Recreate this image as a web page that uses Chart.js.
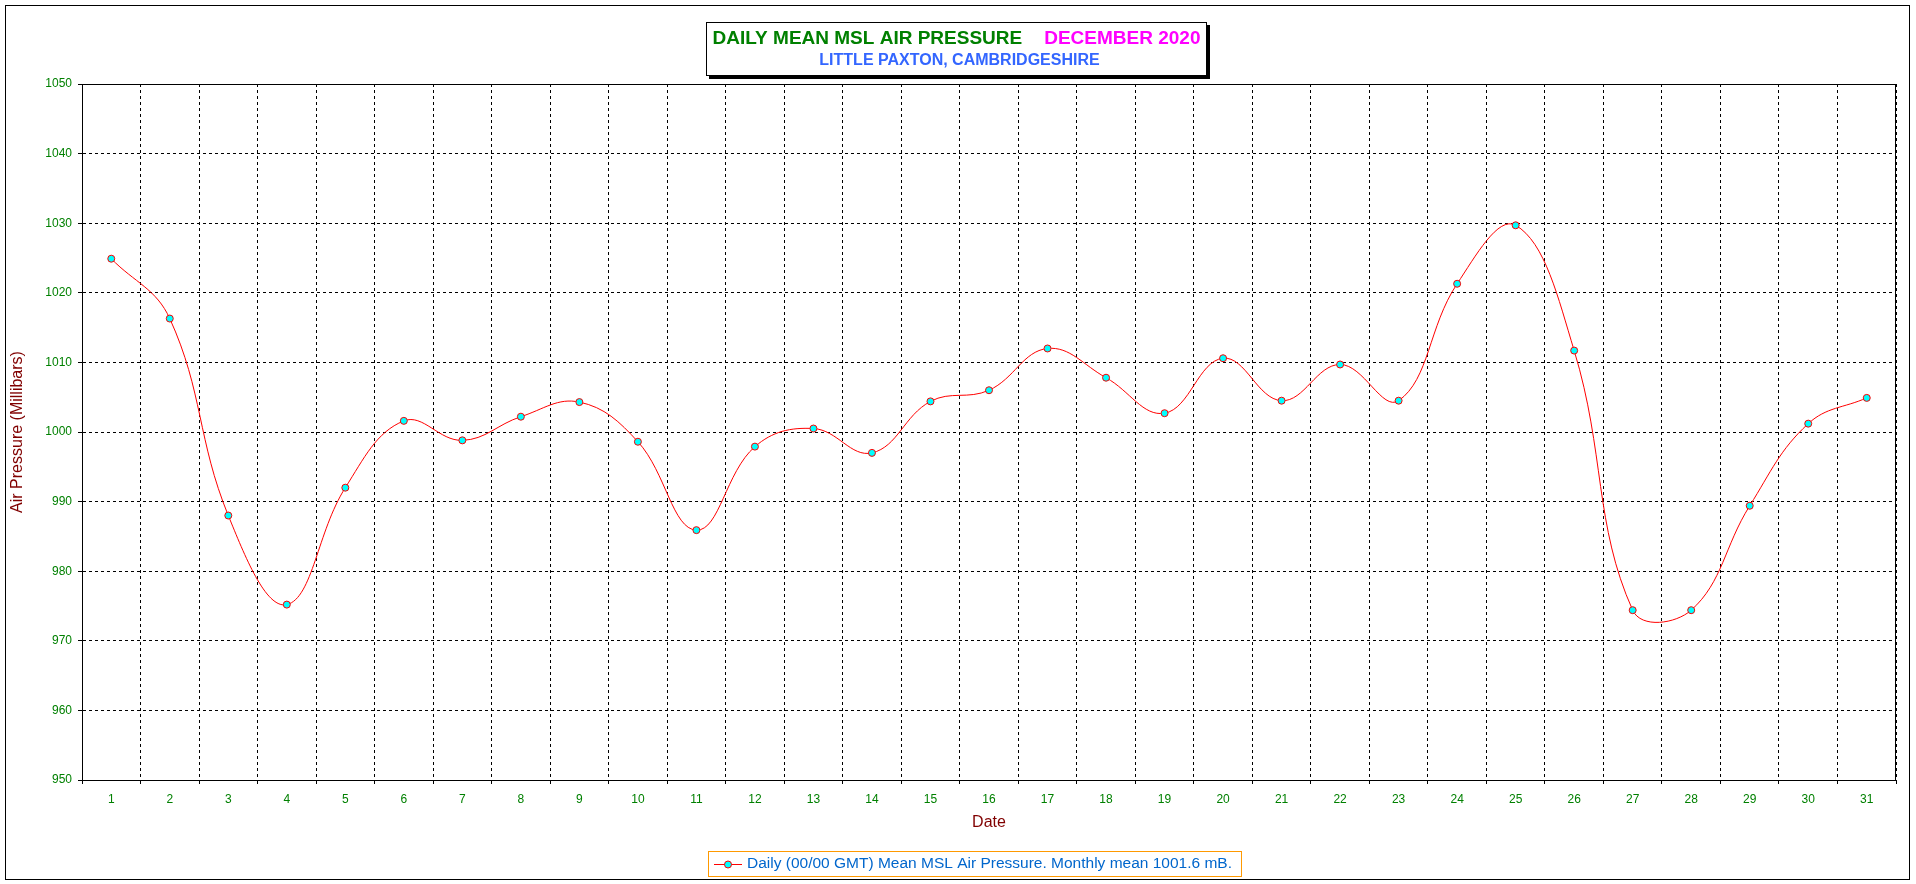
<!DOCTYPE html>
<html>
<head>
<meta charset="utf-8">
<title>Daily Mean MSL Air Pressure - December 2020</title>
<script src="https://cdn.jsdelivr.net/npm/chart.js@4.4.1/dist/chart.umd.min.js"></script>
<style>
  html, body { margin: 0; padding: 0; background: #fff; }
  #wrap { width: 1916px; height: 884px; }
</style>
</head>
<body>
<div id="wrap"><canvas id="pressure-chart" width="1916" height="884"></canvas></div>
<script>
// day of month (x categories)
var days = ['1','2','3','4','5','6','7','8','9','10','11','12','13','14','15','16',
            '17','18','19','20','21','22','23','24','25','26','27','28','29','30','31'];
// daily mean MSL pressure, mb
var pressure = [1024.9, 1016.3, 988.0, 975.2, 992.0, 1001.6, 998.8, 1002.2, 1004.3, 998.6,
                985.9, 997.9, 1000.5, 997.0, 1004.4, 1006.0, 1012.0, 1007.8, 1002.7, 1010.6,
                1004.5, 1009.7, 1004.5, 1021.3, 1029.7, 1011.7, 974.4, 974.4, 989.4, 1001.2, 1004.9];
var yMin = 950, yMax = 1050, yStep = 10;

var titleMain = "DAILY MEAN MSL AIR PRESSURE";
var titleMonth = "DECEMBER 2020";
var titleSub = "LITTLE PAXTON, CAMBRIDGESHIRE";
var seriesLabel = "Daily (00/00 GMT) Mean MSL Air Pressure. Monthly mean 1001.6 mB.";

var FONT = '"Liberation Sans", Arial, sans-serif';

// white page + outer frame
var backdrop = {
  id: 'backdrop',
  beforeDraw: function(chart) {
    var c = chart.ctx;
    c.save();
    c.fillStyle = '#fff';
    c.fillRect(0, 0, chart.width, chart.height);
    c.strokeStyle = '#000';
    c.lineWidth = 1;
    c.strokeRect(5.5, 5.5, chart.width - 12, chart.height - 10);
    c.restore();
  }
};

// plot border, title box and legend box
var extras = {
  id: 'extras',
  afterDraw: function(chart) {
    var c = chart.ctx, a = chart.chartArea;
    c.save();
    c.strokeStyle = '#000';
    c.lineWidth = 1;
    c.setLineDash([]);
    c.strokeRect(a.left + 0.5, a.top + 0.5, a.right - a.left - 1, a.bottom - a.top);

    // title box with shadow
    var bx = 706, by = 22, bw = 501, bh = 54;
    c.fillStyle = '#000';
    c.fillRect(bx + 3, by + 3, bw, bh);
    c.fillStyle = '#fff';
    c.fillRect(bx, by, bw, bh);
    c.strokeRect(bx + 0.5, by + 0.5, bw - 1, bh - 1);

    c.textBaseline = 'middle';
    c.textAlign = 'left';
    c.font = 'bold 19px ' + FONT;
    var w1 = c.measureText(titleMain).width;
    var w2 = c.measureText(titleMonth).width;
    var gap = 22;
    var x0 = bx + bw / 2 - (w1 + gap + w2) / 2;
    c.fillStyle = '#008000';
    c.fillText(titleMain, x0, by + 17);
    c.fillStyle = '#ff00ff';
    c.fillText(titleMonth, x0 + w1 + gap, by + 17);
    c.font = 'bold 16px ' + FONT;
    c.textAlign = 'center';
    c.fillStyle = '#3366ff';
    c.fillText(titleSub, bx + bw / 2 + 3, by + 39);

    // legend
    var ds = chart.data.datasets[0];
    c.font = '15.5px ' + FONT;
    var tw = c.measureText(ds.label).width;
    var lx = 708, ly = 851, lh = 25;
    var lw = 39 + tw + 9;
    c.strokeStyle = '#ff9900';
    c.strokeRect(lx + 0.5, ly + 0.5, lw, lh);
    var my = ly + lh / 2 + 1;
    c.strokeStyle = ds.borderColor;
    c.beginPath();
    c.moveTo(lx + 6, my);
    c.lineTo(lx + 34, my);
    c.stroke();
    c.beginPath();
    c.arc(lx + 20, my, 3.5, 0, Math.PI * 2);
    c.fillStyle = ds.pointBackgroundColor;
    c.fill();
    c.stroke();
    c.fillStyle = '#0066cc';
    c.textAlign = 'left';
    c.fillText(ds.label, lx + 39, my - 1);
    c.restore();
  }
};

var ctx = document.getElementById('pressure-chart');

var chart = new Chart(ctx, {
  type: 'line',
  data: {
    labels: days,
    datasets: [{
      label: seriesLabel,
      data: pressure,
      borderColor: '#ff0000',
      borderWidth: 1,
      backgroundColor: '#00ffff',
      pointBackgroundColor: '#00ffff',
      pointBorderColor: '#ff0000',
      pointBorderWidth: 1,
      pointRadius: 3.5,
      fill: false,
      tension: 0.4
    }]
  },
  options: {
    responsive: false,
    animation: false,
    devicePixelRatio: 1,
    layout: { padding: { left: 0, right: 20, top: 84, bottom: 0 } },
    plugins: {
      legend: { display: false },
      title: { display: false },
      tooltip: { enabled: false }
    },
    scales: {
      x: {
        type: 'category',
        offset: true,
        afterFit: function(s) { s.height = 104; },
        grid: {
          offset: true,
          color: '#000',
          lineWidth: 1,
          tickLength: 4,
          drawTicks: true
        },
        border: { display: true, color: '#000', width: 1, dash: [3, 3] },
        ticks: {
          autoSkip: false,
          maxRotation: 0,
          padding: 8,
          color: '#008000',
          font: { family: FONT, size: 12 }
        },
        title: {
          display: true,
          text: 'Date',
          color: '#800000',
          font: { family: FONT, size: 16 },
          padding: { top: 0, bottom: 52 }
        }
      },
      y: {
        min: yMin,
        max: yMax,
        afterFit: function(s) { s.width = 82; },
        grid: {
          color: '#000',
          lineWidth: 1,
          tickLength: 4
        },
        border: { display: true, color: '#000', width: 1, dash: [3, 3] },
        ticks: {
          stepSize: yStep,
          padding: 6,
          color: '#008000',
          font: { family: FONT, size: 12 },
          callback: function(v) { return String(v); }
        },
        title: {
          display: true,
          text: 'Air Pressure (Millibars)',
          color: '#800000',
          font: { family: FONT, size: 16 },
          padding: { top: 8, bottom: 0 }
        }
      }
    }
  },
  plugins: [backdrop, extras]
});
</script>
</body>
</html>
